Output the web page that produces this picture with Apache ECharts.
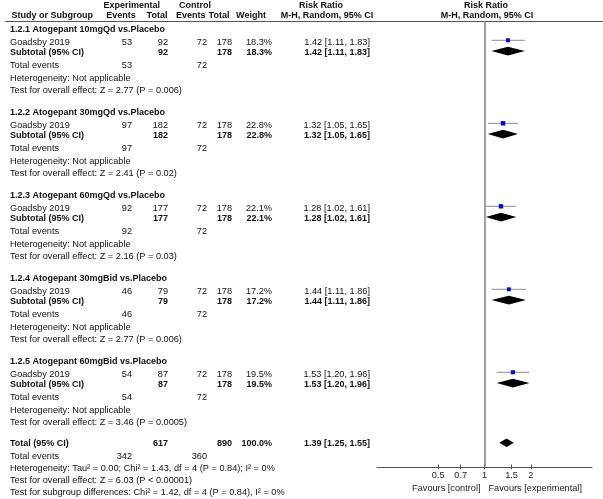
<!DOCTYPE html>
<html><head><meta charset="utf-8">
<script src="https://cdn.jsdelivr.net/npm/echarts@6/dist/echarts.min.js"></script>
<style>html,body{margin:0;padding:0;background:#fff}#c{width:603px;height:499px}</style>
</head><body><div id="c"></div>
<script>
// ---------------- data ----------------
const groupTitles = [
  '1.2.1 Atogepant 10mgQd vs.Placebo',
  '1.2.2 Atogepant 30mgQd vs.Placebo',
  '1.2.3 Atogepant 60mgQd vs.Placebo',
  '1.2.4 Atogepant 30mgBid vs.Placebo',
  '1.2.5 Atogepant 60mgBid vs.Placebo'
];
const studyNames = ['Goadsby 2019','Goadsby 2019','Goadsby 2019','Goadsby 2019','Goadsby 2019'];
const expEvents = [53, 97, 92, 46, 54];
const expTotal  = [92, 182, 177, 79, 87];
const ctlEvents = [72, 72, 72, 72, 72];
const ctlTotal  = [178, 178, 178, 178, 178];
const weights   = [18.3, 22.8, 22.1, 17.2, 19.5];
const rr        = [1.42, 1.32, 1.28, 1.44, 1.53];
const rrLo      = [1.11, 1.05, 1.02, 1.11, 1.20];
const rrHi      = [1.83, 1.65, 1.61, 1.86, 1.96];
const overallEffect = [
  'Test for overall effect: Z = 2.77 (P = 0.006)',
  'Test for overall effect: Z = 2.41 (P = 0.02)',
  'Test for overall effect: Z = 2.16 (P = 0.03)',
  'Test for overall effect: Z = 2.77 (P = 0.006)',
  'Test for overall effect: Z = 3.46 (P = 0.0005)'
];
const totalExpN = 617, totalCtlN = 890, totalWeight = 100.0;
const totalExpEv = 342, totalCtlEv = 360;
const totalRR = 1.39, totalLo = 1.25, totalHi = 1.55;
const totalHet = 'Heterogeneity: Tau\u00b2 = 0.00; Chi\u00b2 = 1.43, df = 4 (P = 0.84); I\u00b2 = 0%';
const totalEffect = 'Test for overall effect: Z = 6.03 (P < 0.00001)';
const subgroupTest = 'Test for subgroup differences: Chi\u00b2 = 1.42, df = 4 (P = 0.84), I\u00b2 = 0%';
const tickValues = [0.5, 0.7, 1, 1.5, 2];
const axisMin = 0.2, axisMax = 5;

// ---------------- layout ----------------
const W = 603, H = 499;
const COL = {label:10, expEv:132, expTot:168, ctlEv:207, ctlTot:232, wt:272, rr:370};
const HDR1 = 5.5, HDR2 = 16, RULE = 21, AXIS_Y = 467;
const groupTop = g => 30 + 83 * g;
const TOT = 443.5;
const FONT = '"Liberation Sans", Arial, sans-serif';
const FS = 9.2, FSB = 9.0;

const texts = [];
function T(x, y, s, a, b) { texts.push({x, y, s: String(s), a: a || 'left', b: !!b}); }
const f2 = v => v.toFixed(2);
const ci = (e, l, h) => f2(e) + ' [' + f2(l) + ', ' + f2(h) + ']';

// header
T(131.7, HDR1, 'Experimental', 'center', true);
T(195, HDR1, 'Control', 'center', true);
T(321, HDR1, 'Risk Ratio', 'center', true);
T(486, HDR1, 'Risk Ratio', 'center', true);
T(11.5, HDR2, 'Study or Subgroup', 'left', true);
T(121, HDR2, 'Events', 'center', true);
T(157, HDR2, 'Total', 'center', true);
T(190.7, HDR2, 'Events', 'center', true);
T(219, HDR2, 'Total', 'center', true);
T(251, HDR2, 'Weight', 'center', true);
T(327, HDR2, 'M-H, Random, 95% CI', 'center', true);
T(487, HDR2, 'M-H, Random, 95% CI', 'center', true);

const studyY = [], subY = [];
groupTitles.forEach((g, i) => {
  const h = groupTop(i);
  T(COL.label, h, g, 'left', true);
  const ys = h + 12.2, yb = h + 22.6;
  studyY.push(h + 10.3); subY.push(h + 21.1);
  T(COL.label, ys, studyNames[i]);
  T(COL.expEv, ys, expEvents[i], 'right');
  T(COL.expTot, ys, expTotal[i], 'right');
  T(COL.ctlEv, ys, ctlEvents[i], 'right');
  T(COL.ctlTot, ys, ctlTotal[i], 'right');
  T(COL.wt, ys, weights[i].toFixed(1) + '%', 'right');
  T(COL.rr, ys, ci(rr[i], rrLo[i], rrHi[i]), 'right');
  T(COL.label, yb, 'Subtotal (95% CI)', 'left', true);
  T(COL.expTot, yb, expTotal[i], 'right', true);
  T(COL.ctlTot, yb, ctlTotal[i], 'right', true);
  T(COL.wt, yb, weights[i].toFixed(1) + '%', 'right', true);
  T(COL.rr, yb, ci(rr[i], rrLo[i], rrHi[i]), 'right', true);
  T(COL.label, h + 35.8, 'Total events');
  T(COL.expEv, h + 35.8, expEvents[i], 'right');
  T(COL.ctlEv, h + 35.8, ctlEvents[i], 'right');
  T(COL.label, h + 48, 'Heterogeneity: Not applicable');
  T(COL.label, h + 60, overallEffect[i]);
});
T(COL.label, TOT, 'Total (95% CI)', 'left', true);
T(COL.expTot, TOT, totalExpN, 'right', true);
T(COL.ctlTot, TOT, totalCtlN, 'right', true);
T(COL.wt, TOT, totalWeight.toFixed(1) + '%', 'right', true);
T(COL.rr, TOT, ci(totalRR, totalLo, totalHi), 'right', true);
T(COL.label, TOT + 12.5, 'Total events');
T(COL.expEv, TOT + 12.5, totalExpEv, 'right');
T(COL.ctlEv, TOT + 12.5, totalCtlEv, 'right');
T(COL.label, TOT + 24.5, totalHet);
T(COL.label, TOT + 36.5, totalEffect);
T(COL.label, TOT + 48.5, subgroupTest);

// ---------------- chart ----------------
const chart = echarts.init(document.getElementById('c'), null, {renderer: 'canvas'});
const lnMin = Math.log(axisMin), lnMax = Math.log(axisMax);
const tickLn = tickValues.map(Math.log);
const fmtTick = v => String(parseFloat(Math.exp(v).toFixed(2)));

const textSeries = {
  type: 'custom', xAxisIndex: 0, yAxisIndex: 0, clip: false, silent: true,
  data: texts.map(t => [t.x, t.y]),
  renderItem: (params, api) => {
    const t = texts[params.dataIndex];
    const p = api.coord([api.value(0), api.value(1)]);
    return {type: 'text', x: p[0], y: p[1], style: {
      text: t.s, fill: '#111', fontSize: t.b ? FSB : FS, fontWeight: t.b ? 'bold' : 'normal',
      fontFamily: FONT, align: t.a, verticalAlign: 'middle'}};
  }
};
const ruleSeries = {
  type: 'custom', xAxisIndex: 0, yAxisIndex: 0, clip: false, silent: true,
  data: [[5, RULE, W, RULE]],
  renderItem: (params, api) => {
    const a = api.coord([api.value(0), api.value(1)]);
    const b = api.coord([api.value(2), api.value(3)]);
    return {type: 'line', shape: {x1: a[0], y1: a[1] + 0.5, x2: b[0], y2: b[1] + 0.5},
      style: {stroke: '#555', lineWidth: 1}};
  }
};
const studySeries = {
  type: 'custom', xAxisIndex: 1, yAxisIndex: 1, clip: false, silent: true,
  data: rr.map((v, i) => [Math.log(v), Math.log(rrLo[i]), Math.log(rrHi[i]), studyY[i], weights[i]]),
  encode: {x: [0, 1, 2], y: 3},
  renderItem: (params, api) => {
    const y = api.value(3);
    const c = api.coord([api.value(0), y]);
    const l = api.coord([api.value(1), y]);
    const h = api.coord([api.value(2), y]);
    const s = 2.2 + api.value(4) / 10;
    return {type: 'group', children: [
      {type: 'line', shape: {x1: l[0], y1: c[1], x2: h[0], y2: c[1]}, style: {stroke: '#8c8c8c', lineWidth: 1}},
      {type: 'rect', shape: {x: c[0] - s / 2, y: c[1] - s / 2, width: s, height: s}, style: {fill: '#0a0ad2'}}
    ]};
  },
  markLine: {
    silent: true, symbol: 'none', label: {show: false},
    lineStyle: {color: '#8a8a8a', width: 1.6, type: 'solid'},
    data: [{xAxis: 0}]
  }
};
const diamondData = rr.map((v, i) => [Math.log(v), Math.log(rrLo[i]), Math.log(rrHi[i]), subY[i]]);
diamondData.push([Math.log(totalRR), Math.log(totalLo), Math.log(totalHi), TOT - 0.8]);
const diamondSeries = {
  type: 'custom', xAxisIndex: 1, yAxisIndex: 1, clip: false, silent: true,
  data: diamondData, encode: {x: [0, 1, 2], y: 3},
  renderItem: (params, api) => {
    const y = api.value(3);
    const c = api.coord([api.value(0), y]);
    const l = api.coord([api.value(1), y]);
    const h = api.coord([api.value(2), y]);
    const hh = 4.3;
    return {type: 'polygon', shape: {points: [[l[0], c[1]], [c[0], c[1] - hh], [h[0], c[1]], [c[0], c[1] + hh]]},
      style: {fill: '#000'}};
  }
};
const favoursSeries = {
  type: 'custom', xAxisIndex: 1, yAxisIndex: 1, clip: false, silent: true,
  data: [[0, 488]],
  renderItem: (params, api) => {
    const p = api.coord([api.value(0), api.value(1)]);
    const st = (txt, al, dx) => ({type: 'text', x: p[0] + dx, y: p[1], style: {
      text: txt, fill: '#222', fontSize: FS, fontFamily: FONT, align: al, verticalAlign: 'middle'}});
    return {type: 'group', children: [st('Favours [control]', 'right', -4), st('Favours [experimental]', 'left', 4)]};
  }
};

chart.setOption({
  animation: false,
  backgroundColor: '#fff',
  grid: [
    {left: 0, right: 0, top: 0, bottom: 0},
    {left: 377, right: W - 592, top: RULE, bottom: H - AXIS_Y}
  ],
  xAxis: [
    {type: 'value', gridIndex: 0, min: 0, max: W, show: false},
    {type: 'value', gridIndex: 1, min: lnMin, max: lnMax, position: 'bottom',
      axisLine: {show: true, onZero: false, lineStyle: {color: '#555', width: 1}},
      axisTick: {show: true, length: 2.5, customValues: tickLn, lineStyle: {color: '#555'}},
      axisLabel: {show: true, customValues: tickLn, formatter: fmtTick, margin: 4,
        color: '#222', fontSize: FS, fontFamily: FONT},
      splitLine: {show: false}},
    {type: 'value', gridIndex: 1, min: lnMin, max: lnMax, position: 'bottom',
      axisLine: {show: false, onZero: false},
      axisTick: {show: true, inside: true, length: 2.5, customValues: tickLn, lineStyle: {color: '#555'}},
      axisLabel: {show: false}, splitLine: {show: false}}
  ],
  yAxis: [
    {type: 'value', gridIndex: 0, min: 0, max: H, inverse: true, show: false},
    {type: 'value', gridIndex: 1, min: RULE, max: AXIS_Y, inverse: true, show: false}
  ],
  series: [ruleSeries, textSeries, studySeries, diamondSeries, favoursSeries]
});
</script>
</body></html>
